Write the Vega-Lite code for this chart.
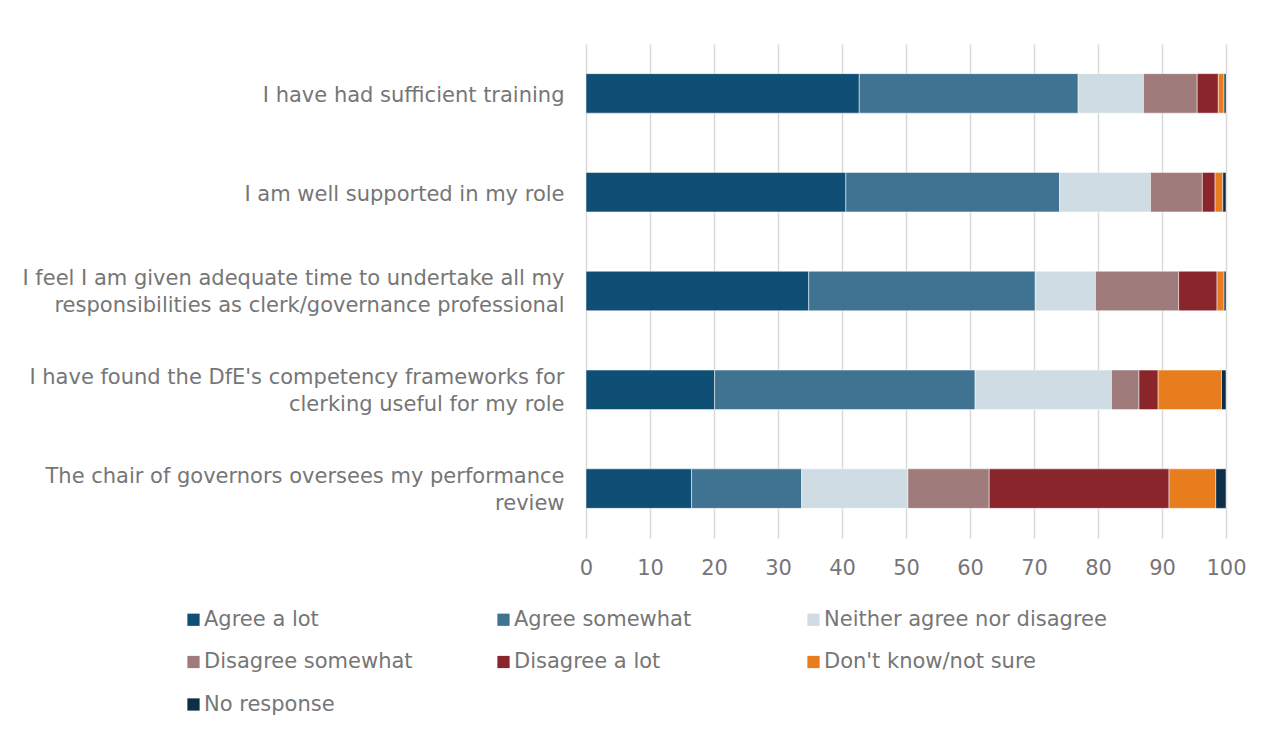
{
  "$schema": "https://vega.github.io/schema/vega-lite/v6.json",
  "autosize": {"type": "none"},
  "padding": {"left": 586, "top": 44, "right": 37, "bottom": 191},
  "width": 640,
  "height": 494,
  "background": "white",
  "config": {
    "font": "DejaVu Sans",
    "view": {"stroke": null},
    "axis": {"labelFont": "DejaVu Sans", "labelColor": "#767676", "labelFontSize": 21},
    "legend": {"labelFont": "DejaVu Sans", "labelColor": "#767676", "labelFontSize": 21}
  },
  "data": {
    "values": [
      {"q": "I have had sufficient training", "cat": "Agree a lot", "k": 1, "v": 42.7},
      {"q": "I have had sufficient training", "cat": "Agree somewhat", "k": 2, "v": 34.2},
      {"q": "I have had sufficient training", "cat": "Neither agree nor disagree", "k": 3, "v": 10.2},
      {"q": "I have had sufficient training", "cat": "Disagree somewhat", "k": 4, "v": 8.4},
      {"q": "I have had sufficient training", "cat": "Disagree a lot", "k": 5, "v": 3.3},
      {"q": "I have had sufficient training", "cat": "Don't know/not sure", "k": 6, "v": 0.9},
      {"q": "I have had sufficient training", "cat": "No response", "k": 7, "v": 0.3},
      {"q": "I am well supported in my role", "cat": "Agree a lot", "k": 1, "v": 40.6},
      {"q": "I am well supported in my role", "cat": "Agree somewhat", "k": 2, "v": 33.4},
      {"q": "I am well supported in my role", "cat": "Neither agree nor disagree", "k": 3, "v": 14.2},
      {"q": "I am well supported in my role", "cat": "Disagree somewhat", "k": 4, "v": 8.1},
      {"q": "I am well supported in my role", "cat": "Disagree a lot", "k": 5, "v": 2.0},
      {"q": "I am well supported in my role", "cat": "Don't know/not sure", "k": 6, "v": 1.2},
      {"q": "I am well supported in my role", "cat": "No response", "k": 7, "v": 0.5},
      {"q": "I feel I am given adequate time to undertake all my|responsibilities as clerk/governance professional", "cat": "Agree a lot", "k": 1, "v": 34.8},
      {"q": "I feel I am given adequate time to undertake all my|responsibilities as clerk/governance professional", "cat": "Agree somewhat", "k": 2, "v": 35.4},
      {"q": "I feel I am given adequate time to undertake all my|responsibilities as clerk/governance professional", "cat": "Neither agree nor disagree", "k": 3, "v": 9.4},
      {"q": "I feel I am given adequate time to undertake all my|responsibilities as clerk/governance professional", "cat": "Disagree somewhat", "k": 4, "v": 13.0},
      {"q": "I feel I am given adequate time to undertake all my|responsibilities as clerk/governance professional", "cat": "Disagree a lot", "k": 5, "v": 6.0},
      {"q": "I feel I am given adequate time to undertake all my|responsibilities as clerk/governance professional", "cat": "Don't know/not sure", "k": 6, "v": 1.1},
      {"q": "I feel I am given adequate time to undertake all my|responsibilities as clerk/governance professional", "cat": "No response", "k": 7, "v": 0.3},
      {"q": "I have found the DfE's competency frameworks for|clerking useful for my role", "cat": "Agree a lot", "k": 1, "v": 20.1},
      {"q": "I have found the DfE's competency frameworks for|clerking useful for my role", "cat": "Agree somewhat", "k": 2, "v": 40.7},
      {"q": "I have found the DfE's competency frameworks for|clerking useful for my role", "cat": "Neither agree nor disagree", "k": 3, "v": 21.3},
      {"q": "I have found the DfE's competency frameworks for|clerking useful for my role", "cat": "Disagree somewhat", "k": 4, "v": 4.3},
      {"q": "I have found the DfE's competency frameworks for|clerking useful for my role", "cat": "Disagree a lot", "k": 5, "v": 3.0},
      {"q": "I have found the DfE's competency frameworks for|clerking useful for my role", "cat": "Don't know/not sure", "k": 6, "v": 9.9},
      {"q": "I have found the DfE's competency frameworks for|clerking useful for my role", "cat": "No response", "k": 7, "v": 0.7},
      {"q": "The chair of governors oversees my performance|review", "cat": "Agree a lot", "k": 1, "v": 16.5},
      {"q": "The chair of governors oversees my performance|review", "cat": "Agree somewhat", "k": 2, "v": 17.2},
      {"q": "The chair of governors oversees my performance|review", "cat": "Neither agree nor disagree", "k": 3, "v": 16.6},
      {"q": "The chair of governors oversees my performance|review", "cat": "Disagree somewhat", "k": 4, "v": 12.7},
      {"q": "The chair of governors oversees my performance|review", "cat": "Disagree a lot", "k": 5, "v": 28.1},
      {"q": "The chair of governors oversees my performance|review", "cat": "Don't know/not sure", "k": 6, "v": 7.3},
      {"q": "The chair of governors oversees my performance|review", "cat": "No response", "k": 7, "v": 1.6}
    ]
  },
  "mark": {"type": "bar", "stroke": "white", "strokeWidth": 0.5},
  "encoding": {
    "y": {
      "field": "q", "type": "nominal", "sort": null, "title": null,
      "scale": {"paddingInner": 0.6, "paddingOuter": 0.3},
      "axis": {
        "labelExpr": "split(datum.label, '|')", "labelLineHeight": 27, "labelLimit": 600, "ticks": false, "domain": false,
        "labelPadding": 22, "labelAlign": "right", "labelBaseline": "middle",
        "labelOffset": {"condition": {"test": "indexof(datum.value, '|') >= 0", "value": -12}, "value": 3}
      }
    },
    "x": {
      "field": "v", "type": "quantitative", "stack": "zero", "title": null,
      "scale": {"domain": [0, 100], "nice": false},
      "axis": {"values": [0,10,20,30,40,50,60,70,80,90,100], "grid": true, "gridColor": "#D9D9D9", "gridWidth": 1.5, "ticks": false, "domain": false, "labelPadding": 19, "labelFlush": false}
    },
    "order": {"field": "k", "type": "quantitative"},
    "color": {
      "field": "cat", "type": "nominal", "title": null,
      "scale": {
        "domain": ["Agree a lot", "Agree somewhat", "Neither agree nor disagree", "Disagree somewhat", "Disagree a lot", "Don't know/not sure", "No response"],
        "range": ["#104F75", "#407391", "#CFDCE3", "#9F7B7C", "#8A252B", "#E87D1E", "#0D2E47"]
      },
      "legend": {
        "orient": "none", "legendX": -403, "legendY": 565, "direction": "horizontal", "columns": 3,
        "gridAlign": "all", "columnPadding": 6, "rowPadding": 20.5, "symbolType": "square", "symbolSize": 150,
        "symbolStrokeWidth": 0, "labelOffset": 0, "symbolOpacity": 1, "labelLimit": 500
      }
    }
  }
}
